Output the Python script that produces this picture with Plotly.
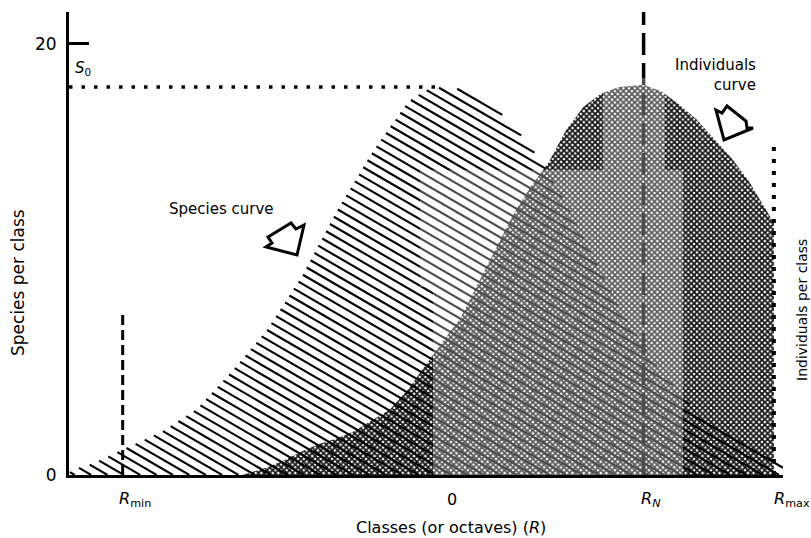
import numpy as np
import plotly.graph_objects as go

# Classes (octaves) and species per class for the species curve
SPECIES_R = [-10.6, -10.0, -9.0, -8.0, -7.0, -6.0, -5.0, -4.0, -3.0, -2.0, -1.0, -0.5, 0.0,
             0.5, 1.0, 1.5, 2.0, 2.5, 3.0, 3.5, 4.0, 5.0, 6.0, 7.0, 8.0, 9.0, 9.66]
SPECIES_S = [0.2, 0.5, 1.25, 2.0, 3.05, 4.8, 6.73, 9.25, 12.3, 15.0, 17.3, 17.85, 18.0,
             17.9, 17.6, 17.0, 16.2, 15.2, 14.0, 12.6, 11.0, 7.8, 5.2, 3.3, 2.0, 1.1, 0.6]

# Individuals curve (same vertical scale), truncated at R_max
INDIV_R = [-5.7, -5.0, -4.5, -4.0, -3.5, -3.0, -2.5, -2.0, -1.5, -1.0, -0.5, 0.0, 0.5, 1.0,
           1.5, 2.0, 2.5, 3.0, 3.5, 4.0, 4.5, 5.0, 5.7, 6.2, 6.7, 7.2, 7.7, 8.2, 8.7, 9.0, 9.4]
INDIV_N = [0.0, 0.35, 0.7, 1.1, 1.45, 1.7, 2.05, 2.55, 3.05, 3.95, 5.1, 6.2, 7.3, 8.9,
           10.5, 12.1, 13.4, 14.5, 16.0, 17.1, 17.7, 18.0, 18.1, 17.8, 17.2, 16.5, 15.6, 14.7, 13.6, 12.8, 11.7]

# Reference classes and levels
R_MIN = -9.1
R_ZERO = 0.0
R_N = 5.7
R_MAX = 9.4
S0 = 18.0
R_MIN_TOP = 7.56
R_N_TOP = 21.48
R_MAX_TOP = 15.45

Y_TICKS = [0, 20]
Y_TICK_TEXT = ["0", "20"]
X_LABELS = [(R_MIN, "<i>R</i><sub>min</sub>", "left", -6),
            (R_ZERO, "0", "center", 9),
            (R_N, "<i>R<sub>N</sub></i>", "left", -5),
            (R_MAX, "<i>R</i><sub>max</sub>", "left", -2)]

FONT = "'DejaVu Sans', Verdana, sans-serif"

W, H = 811, 538
ML, MR, MT, MB = 69, 28, 12, 63
X_RANGE = [-10.625, 9.66]
Y_RANGE = [0, 21.48]
PW, PH = W - ML - MR, H - MT - MB


def px(xp, yp):
    """pixel position -> paper coordinates"""
    return (xp - ML) / PW, (H - MB - yp) / PH


fig = go.Figure()

# Individuals curve: dark halftone fill
ir = list(INDIV_R) + [INDIV_R[-1], INDIV_R[0]]
inn = list(INDIV_N) + [0, 0]
fig.add_trace(go.Scatter(
    x=ir, y=inn, mode="lines", fill="toself", name="Individuals curve",
    line=dict(width=0, color="rgba(0,0,0,0)"),
    fillcolor="rgba(0,0,0,0)",
    fillpattern=dict(shape="x", size=4, solidity=0.7, fgcolor="#151515",
                     bgcolor="#ffffff", fillmode="replace"),
    hoverinfo="skip", showlegend=False))

# Species curve outline (hatched fill drawn below)
fig.add_trace(go.Scatter(
    x=SPECIES_R, y=SPECIES_S, mode="lines", fill="tozeroy", name="Species curve",
    line=dict(width=0, color="rgba(0,0,0,0)"), fillcolor="rgba(0,0,0,0)",
    hoverinfo="skip", showlegend=False))

# Diagonal hatching clipped to the species curve
HATCH_SLOPE = 0.58 * (PW / (X_RANGE[1] - X_RANGE[0])) / (PH / (Y_RANGE[1] - Y_RANGE[0]))
HATCH_STEP = 9.5 / (PH / (Y_RANGE[1] - Y_RANGE[0]))
xs = np.linspace(SPECIES_R[0], SPECIES_R[-1], 5000)
top = np.interp(xs, SPECIES_R, SPECIES_S)
hx, hy = [], []
c_lo = HATCH_SLOPE * SPECIES_R[0]
c_hi = max(SPECIES_S) + HATCH_SLOPE * SPECIES_R[-1]
for c in np.arange(c_lo + HATCH_STEP * 0.3, c_hi, HATCH_STEP):
    yl = c - HATCH_SLOPE * xs
    inside = (yl >= 0) & (yl <= top)
    edges = np.flatnonzero(np.diff(np.concatenate([[0], inside.astype(int), [0]])))
    for a, b in zip(edges[::2], edges[1::2]):
        hx += [xs[a], xs[b - 1], None]
        hy += [yl[a], yl[b - 1], None]
fig.add_trace(go.Scatter(x=hx, y=hy, mode="lines", line=dict(color="black", width=2.1),
                         hoverinfo="skip", showlegend=False))

shapes = []
# reference lines
shapes.append(dict(type="line", xref="x", yref="y", x0=R_N, x1=R_N, y0=0, y1=R_N_TOP,
                   line=dict(color="black", width=3.5, dash="22px,8px"), layer="above"))
shapes.append(dict(type="line", xref="x", yref="y", x0=R_MIN, x1=R_MIN, y0=0, y1=R_MIN_TOP,
                   line=dict(color="black", width=3, dash="10px,5px"), layer="above"))
shapes.append(dict(type="line", xref="x", yref="y", x0=X_RANGE[0], x1=R_ZERO, y0=S0, y1=S0,
                   line=dict(color="black", width=3.5, dash="3.5px,9px"), layer="above"))
shapes.append(dict(type="line", xref="x", yref="y", x0=R_MAX, x1=R_MAX, y0=0, y1=R_MAX_TOP,
                   line=dict(color="black", width=4, dash="4px,8px"), layer="above"))

# lighter printing patches over the halftone
for (x0, y0, x1, y1) in [(433, 287, 683, 475), (420, 170, 683, 287), (603, 78, 665, 170)]:
    a0, b0 = px(x0, y1)
    a1, b1 = px(x1, y0)
    shapes.append(dict(type="rect", xref="paper", yref="paper", x0=a0, y0=b0, x1=a1, y1=b1,
                       fillcolor="rgba(255,255,255,0.3)", line=dict(width=0), layer="above"))


def arrow(points):
    pts = [px(a, b) for a, b in points]
    d = "M " + " L ".join(f"{p[0]:.5f},{p[1]:.5f}" for p in pts) + " Z"
    return dict(type="path", xref="paper", yref="paper", path=d, fillcolor="white",
                line=dict(color="black", width=3), layer="above")


shapes.append(arrow([(268, 237), (291, 223), (296, 229), (304, 225), (297, 255),
                     (266, 247), (272, 243)]))
shapes.append(arrow([(716, 110), (722, 113), (727, 106), (746, 121), (747, 128),
                     (753, 128), (724, 140)]))

fig.update_layout(shapes=shapes)


def label(xp, yp, text, size, **kw):
    ax, ay = px(xp, yp)
    d = dict(x=ax, y=ay, xref="paper", yref="paper", text=text, showarrow=False,
             xanchor="center", yanchor="middle",
             font=dict(size=size, family=FONT, color="black"))
    d.update(kw)
    return d


ann = []
for xv, txt, anchor, shift in X_LABELS:
    ann.append(dict(x=xv, y=px(0, 499)[1], xref="x", yref="paper", text=txt, showarrow=False,
                    xanchor=anchor, yanchor="middle", xshift=shift,
                    font=dict(size=16, family=FONT, color="black")))
ann.append(label(73, 68, "<i>S</i><sub>0</sub>", 15, xanchor="left"))
ann.append(label(221, 209, "Species curve", 15))
ann.append(label(758, 75, "Individuals<br>curve", 15, xanchor="right", align="right"))
ann.append(label(451, 527, "Classes (or octaves) (<i>R</i>)", 16))
ann.append(label(18, 283, "Species per class", 17, textangle=-90))
ann.append(label(802, 310, "Individuals per class", 14, textangle=-90))

fig.update_layout(
    annotations=ann,
    width=W, height=H,
    margin=dict(l=ML, r=MR, t=MT, b=MB),
    paper_bgcolor="white", plot_bgcolor="white",
    showlegend=False,
    xaxis=dict(range=X_RANGE, showline=True, linewidth=3, linecolor="black",
               showgrid=False, zeroline=False, showticklabels=False, ticks=""),
    yaxis=dict(range=Y_RANGE, showline=True, linewidth=3, linecolor="black",
               showgrid=False, zeroline=False, tickvals=Y_TICKS, ticktext=Y_TICK_TEXT,
               ticks="inside", ticklen=20, tickwidth=3, tickcolor="black",
               ticklabelstandoff=6,
               tickfont=dict(size=17, family=FONT, color="black")),
)

fig.write_html("out.html")
